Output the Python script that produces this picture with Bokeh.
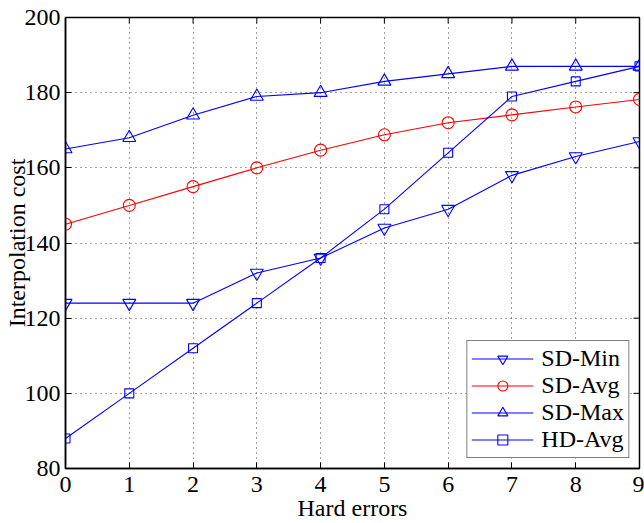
import math
from bokeh.plotting import figure
from bokeh.models import Range1d, FixedTicker, Legend
from bokeh.embed import file_html
from bokeh.resources import INLINE

hard_errors = [0, 1, 2, 3, 4, 5, 6, 7, 8, 9]
sd_min = [124, 124, 124, 132, 136, 144, 149, 158, 163, 167]
sd_avg = [145, 150, 155, 160, 164.7, 168.8, 172, 174.1, 176.2, 178.2]
sd_max = [165, 168, 174, 179, 180, 183, 185, 187, 187, 187]
hd_avg = [88, 100, 112, 124, 136, 149, 164, 179, 183, 187]
x_ticks = [0, 1, 2, 3, 4, 5, 6, 7, 8, 9]
y_ticks = [80, 100, 120, 140, 160, 180, 200]
x_min, x_max = 0, 9
y_min, y_max = 80, 200

FONT = "'Liberation Serif', 'Times New Roman', serif"
BLUE = "#0000ff"
RED = "#ff0000"

p = figure(width=644, height=523, output_backend="svg", toolbar_location=None,
           x_range=Range1d(x_min, x_max), y_range=Range1d(y_min, y_max),
           min_border_left=64, min_border_right=5, min_border_top=17, min_border_bottom=54)
p.outline_line_color = "black"
p.outline_line_width = 1.5
p.background_fill_color = "white"
p.border_fill_color = "white"

for ax in (p.xaxis[0], p.yaxis[0]):
    ax.major_label_text_font = FONT
    ax.major_label_text_font_size = "24px"
    ax.major_label_text_color = "black"
    ax.axis_label_text_font = FONT
    ax.axis_label_text_font_style = "normal"
    ax.axis_label_text_font_size = "24px"
    ax.axis_label_text_color = "black"
    ax.major_tick_in = 6
    ax.major_tick_out = 0
    ax.minor_tick_in = 0
    ax.minor_tick_out = 0
    ax.axis_line_color = "black"
    ax.axis_line_width = 1.5
    ax.major_tick_line_color = "black"
p.xaxis.ticker = FixedTicker(ticks=x_ticks)
p.yaxis.ticker = FixedTicker(ticks=y_ticks)
p.xaxis.axis_label = "Hard errors"
p.yaxis.axis_label = "Interpolation cost"
p.yaxis.axis_label_standoff = -8
p.xaxis.axis_label_standoff = 0
p.xaxis.major_label_standoff = 8
p.yaxis.major_label_standoff = 5

p.xgrid.ticker = FixedTicker(ticks=x_ticks)
p.ygrid.ticker = FixedTicker(ticks=y_ticks)
for g in (p.xgrid[0], p.ygrid[0]):
    g.grid_line_color = "#444444"
    g.grid_line_dash = "1 4"
    g.grid_line_width = 1

# inward ticks on the top and right edges of the box
p.scatter(x_ticks, [y_max] * len(x_ticks), marker="dash", size=12, angle=math.pi / 2,
          line_color="black", line_width=1)
p.scatter([x_max] * len(y_ticks), y_ticks, marker="dash", size=12,
          line_color="black", line_width=1)

series = [
    ("SD-Min", sd_min, BLUE, "inverted_triangle", 13),
    ("SD-Avg", sd_avg, RED, "circle", 12),
    ("SD-Max", sd_max, BLUE, "triangle", 13),
    ("HD-Avg", hd_avg, BLUE, "square", 9),
]
items = []
for name, ys, col, mk, sz in series:
    r1 = p.line(hard_errors, ys, line_color=col, line_width=1.1)
    r2 = p.scatter(hard_errors, ys, marker=mk, size=sz, line_color=col,
                   fill_alpha=0, line_width=1.1)
    items.append((name, [r1, r2]))

legend = Legend(items=items, location="bottom_right")
legend.label_text_font = FONT
legend.label_text_font_size = "24px"
legend.label_text_color = "black"
legend.border_line_color = "black"
legend.border_line_width = 1.5
legend.background_fill_alpha = 1
legend.glyph_width = 62
legend.glyph_height = 25
legend.label_height = 25
legend.spacing = 0
legend.padding = 4
legend.margin = 10
legend.label_standoff = 8
p.add_layout(legend)

open("out.html", "w").write(file_html(p, INLINE))
